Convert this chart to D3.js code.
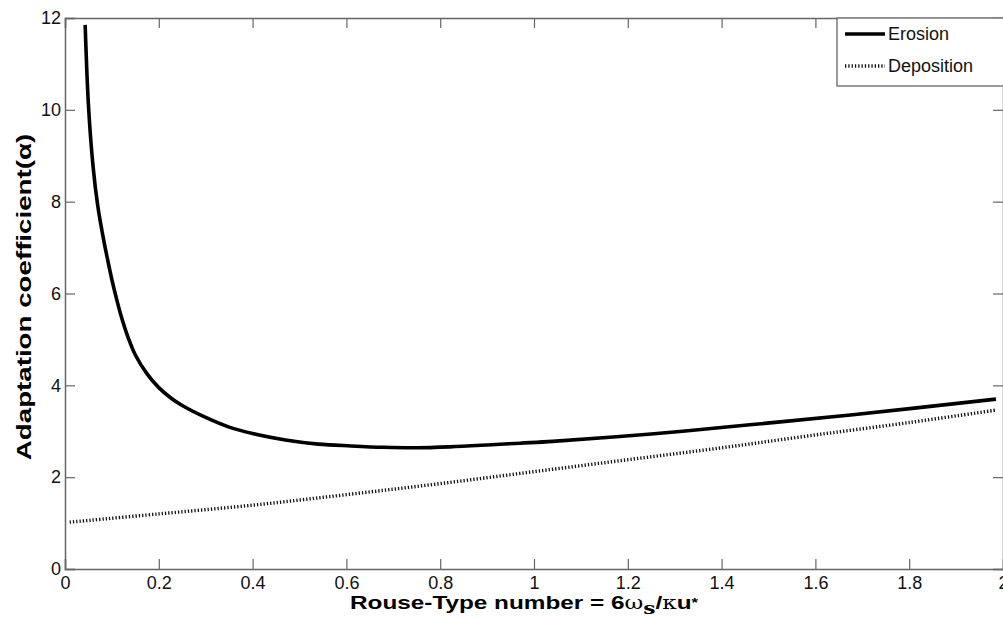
<!DOCTYPE html>
<html>
<head>
<meta charset="utf-8">
<script src="https://cdn.jsdelivr.net/npm/d3@7"></script>
<style>
  html, body { margin: 0; padding: 0; background: #fff; }
  svg { display: block; }
  text { font-family: "Liberation Sans", Arial, sans-serif; }
</style>
</head>
<body>
<svg id="chart" width="1003" height="619"></svg>
<script>
// Rouse-type number (x) and adaptation coefficient (alpha) for each case
const erosionX = [0.043, 0.05, 0.06, 0.07, 0.08, 0.09, 0.10, 0.11, 0.12, 0.135, 0.15, 0.175,
                  0.20, 0.225, 0.25, 0.30, 0.35, 0.40, 0.47, 0.54, 0.61, 0.68, 0.75, 0.82,
                  0.90, 0.97, 1.04, 1.25, 1.46, 1.68, 1.985];
const erosionAlpha = [11.85, 10.1, 8.75, 7.9, 7.3, 6.78, 6.3, 5.88, 5.5, 5.03, 4.66, 4.25,
                      3.95, 3.73, 3.56, 3.30, 3.09, 2.95, 2.81, 2.72, 2.68, 2.65, 2.64, 2.66,
                      2.70, 2.74, 2.78, 2.94, 3.14, 3.36, 3.70];
const depositionX = [0.01, 0.2, 0.4, 0.6, 0.8, 1.0, 1.2, 1.4, 1.6, 1.8, 1.985];
const depositionAlpha = [1.02, 1.2, 1.39, 1.62, 1.86, 2.12, 2.38, 2.64, 2.92, 3.19, 3.46];

const xTicks = [0, 0.2, 0.4, 0.6, 0.8, 1, 1.2, 1.4, 1.6, 1.8, 2];
const yTicks = [0, 2, 4, 6, 8, 10, 12];
const seriesNames = ["Erosion", "Deposition"];

const svg = d3.select("#chart");
const plotLeft = 65, plotTop = 18, plotRight = 1003, plotBottom = 569;
const axisColor = "#666";

const x = d3.scaleLinear().domain([0, 2]).range([plotLeft, plotRight]);
const y = d3.scaleLinear().domain([0, 12]).range([plotBottom, plotTop]);

// Axes box with inward ticks on all four sides
const tickLen = 10;
const axBottom = d3.axisBottom(x).tickValues(xTicks).tickSize(-tickLen).tickPadding(7).tickFormat(d3.format("~g"));
const axTop = d3.axisTop(x).tickValues(xTicks).tickSize(-tickLen).tickFormat("");
const axLeft = d3.axisLeft(y).tickValues(yTicks).tickSize(-tickLen).tickPadding(4).tickFormat(d3.format("~g"));
const axRight = d3.axisRight(y).tickValues(yTicks).tickSize(-tickLen).tickFormat("");

function styleAxis(g) {
  g.select(".domain").attr("stroke", axisColor).attr("stroke-width", 1.5);
  g.selectAll(".tick line").attr("stroke", axisColor).attr("stroke-width", 1.2);
  g.selectAll(".tick text").attr("fill", "#111").style("font-size", "18px")
    .style("font-family", "'Liberation Sans', Arial, sans-serif");
}

svg.append("g").attr("transform", `translate(0,${plotBottom})`).call(axBottom).call(styleAxis);
svg.append("g").attr("transform", `translate(0,${plotTop})`).call(axTop).call(styleAxis);
svg.append("g").attr("transform", `translate(${plotLeft},0)`).call(axLeft).call(styleAxis);
svg.append("g").attr("transform", `translate(${plotRight},0)`).call(axRight).call(styleAxis);

// Curves
const line = d3.line().x(d => x(d[0])).y(d => y(d[1])).curve(d3.curveCatmullRom.alpha(0.5));
const erosion = erosionX.map((v, i) => [v, erosionAlpha[i]]);
const deposition = depositionX.map((v, i) => [v, depositionAlpha[i]]);

const dotDash = "1.3,2";
svg.append("path").datum(deposition).attr("d", line)
  .attr("fill", "none").attr("stroke", "#111").attr("stroke-width", 3.4)
  .attr("stroke-dasharray", dotDash);
svg.append("path").datum(erosion).attr("d", line)
  .attr("fill", "none").attr("stroke", "#000").attr("stroke-width", 3.6)
  .attr("stroke-linejoin", "round");

// Legend
const lg = svg.append("g");
lg.append("rect").attr("x", 837).attr("y", plotTop).attr("width", 180).attr("height", 68)
  .attr("fill", "#fff").attr("stroke", axisColor).attr("stroke-width", 1.3);
const legendStyles = [
  { stroke: "#000", width: 3.6, dash: null },
  { stroke: "#111", width: 3.4, dash: dotDash }
];
seriesNames.forEach((name, i) => {
  const ly = 34 + i * 32;
  lg.append("line").attr("x1", 845).attr("x2", 885).attr("y1", ly).attr("y2", ly)
    .attr("stroke", legendStyles[i].stroke).attr("stroke-width", legendStyles[i].width)
    .attr("stroke-dasharray", legendStyles[i].dash);
  lg.append("text").attr("x", 888).attr("y", ly).attr("dy", "0.36em")
    .style("font-size", "18px").attr("fill", "#111").text(name);
});

// Axis titles (bold, drawn wide)
const xl = svg.append("text")
  .attr("transform", "translate(524,609) scale(1.28,1)")
  .attr("text-anchor", "middle").style("font-size", "19px").style("font-weight", "bold").attr("fill", "#000");
xl.append("tspan").text("Rouse-Type number = 6");
xl.append("tspan").style("font-family", "'DejaVu Serif', serif").style("font-weight", "normal").style("font-size", "18px").text("ω");
xl.append("tspan").attr("dy", 5).style("font-family", "'DejaVu Serif', serif").style("font-size", "17px").text("s");
xl.append("tspan").attr("dy", -5).text("/");
xl.append("tspan").style("font-family", "'DejaVu Serif', serif").style("font-weight", "normal").style("font-size", "18px").text("κ");
xl.append("tspan").text("u");
xl.append("tspan").attr("dy", -2).style("font-size", "13px").text("*");

svg.append("text")
  .attr("transform", `translate(31,297) rotate(-90) scale(1.32,1)`)
  .attr("text-anchor", "middle").style("font-size", "21px").style("font-weight", "bold").attr("fill", "#000")
  .text("Adaptation coefficient(α)");
</script>
</body>
</html>
